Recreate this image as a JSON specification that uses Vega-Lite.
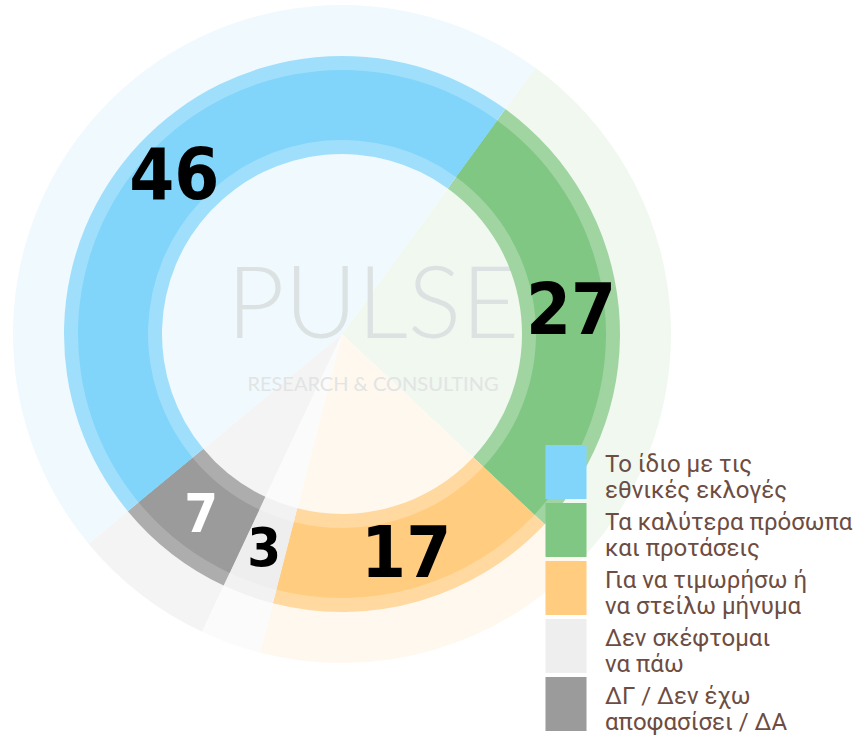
{
  "$schema": "https://vega.github.io/schema/vega-lite/v6.json",
  "width": 684,
  "height": 668,
  "padding": 0,
  "background": "white",
  "config": {"view": {"stroke": null}},
  "datasets": {
    "pts": [
      {"cat": "Τα καλύτερα πρόσωπα\nκαι προτάσεις", "v": 27, "ord": 1},
      {"cat": "Για να τιμωρήσω ή\nνα στείλω μήνυμα", "v": 17, "ord": 2},
      {"cat": "Δεν σκέφτομαι\nνα πάω", "v": 3, "ord": 3},
      {"cat": "ΔΓ / Δεν έχω\nαποφασίσει / ΔΑ", "v": 7, "ord": 4},
      {"cat": "Το ίδιο με τις\nεθνικές εκλογές", "v": 46, "ord": 5}
    ],
    "wm1": [{"t": "PULSE"}],
    "wm2": [{"t": "RESEARCH & CONSULTING"}]
  },
  "resolve": {"scale": {"fill": "independent"}},
  "layer": [
    {
      "data": {"name": "pts"},
      "mark": {"type": "arc", "innerRadius": 0, "outerRadius": 329},
      "encoding": {
        "theta": {"field": "v", "type": "quantitative", "stack": true, "scale": {"range": [0.6283, 6.9115]}},
        "order": {"field": "ord", "type": "quantitative"},
        "fill": {
          "field": "cat", "type": "nominal", "legend": null,
          "scale": {
            "domain": ["Το ίδιο με τις\nεθνικές εκλογές", "Τα καλύτερα πρόσωπα\nκαι προτάσεις", "Για να τιμωρήσω ή\nνα στείλω μήνυμα", "Δεν σκέφτομαι\nνα πάω", "ΔΓ / Δεν έχω\nαποφασίσει / ΔΑ"],
            "range": ["#f0f9fe", "#f0f8f0", "#fff8ef", "#fbfbfb", "#f4f4f4"]
          }
        }
      }
    },
    {
      "data": {"name": "wm1"},
      "mark": {"type": "text", "font": "Lato", "fontWeight": 300, "fontSize": 100, "color": "#dce2e2", "dx": 31, "dy": -26},
      "encoding": {"text": {"field": "t"}}
    },
    {
      "data": {"name": "wm2"},
      "mark": {"type": "text", "font": "Lato", "fontWeight": 400, "fontSize": 20, "color": "#e2e4e4", "dx": 31, "dy": 51},
      "encoding": {"text": {"field": "t"}}
    },
    {
      "data": {"name": "pts"},
      "mark": {"type": "arc", "innerRadius": 180, "outerRadius": 278},
      "encoding": {
        "theta": {"field": "v", "type": "quantitative", "stack": true},
        "order": {"field": "ord", "type": "quantitative"},
        "fill": {
          "field": "cat", "type": "nominal", "legend": null,
          "scale": {
            "domain": ["Το ίδιο με τις\nεθνικές εκλογές", "Τα καλύτερα πρόσωπα\nκαι προτάσεις", "Για να τιμωρήσω ή\nνα στείλω μήνυμα", "Δεν σκέφτομαι\nνα πάω", "ΔΓ / Δεν έχω\nαποφασίσει / ΔΑ"],
            "range": ["#a0dffb", "#a0d5a2", "#ffd99f", "#f2f2f2", "#adadad"]
          }
        }
      }
    },
    {
      "data": {"name": "pts"},
      "mark": {"type": "arc", "innerRadius": 194, "outerRadius": 264},
      "encoding": {
        "theta": {"field": "v", "type": "quantitative", "stack": true},
        "order": {"field": "ord", "type": "quantitative"},
        "color": {
          "field": "cat", "type": "nominal",
          "scale": {
            "domain": ["Το ίδιο με τις\nεθνικές εκλογές", "Τα καλύτερα πρόσωπα\nκαι προτάσεις", "Για να τιμωρήσω ή\nνα στείλω μήνυμα", "Δεν σκέφτομαι\nνα πάω", "ΔΓ / Δεν έχω\nαποφασίσει / ΔΑ"],
            "range": ["#81d4fa", "#81c784", "#ffcc80", "#eeeeee", "#9b9b9b"]
          },
          "legend": {
            "title": null,
            "orient": "none",
            "legendX": 539,
            "legendY": 445,
            "padding": 0,
            "symbolType": "M-0.76,-1H0.76V1H-0.76Z",
            "symbolSize": 2916,
            "symbolStrokeWidth": 0,
            "symbolOpacity": 1,
            "labelFont": "Roboto",
            "labelFontSize": 24,
            "labelBaseline": "alphabetic",
            "labelColor": "#6d4c41",
            "labelExpr": "split(datum.label, '\\n')",
            "rowPadding": -4,
            "labelOffset": 12,
            "labelLimit": 400
          }
        }
      }
    },
    {
      "data": {"name": "pts"},
      "mark": {"type": "text", "radius": 230, "font": "DejaVu Sans Condensed", "fontWeight": "bold"},
      "encoding": {
        "theta": {"field": "v", "type": "quantitative", "stack": true},
        "order": {"field": "ord", "type": "quantitative"},
        "text": {"field": "v", "type": "quantitative"},
        "color": {"condition": {"test": "datum.v == 7", "value": "white"}, "value": "black"},
        "size": {"condition": {"test": "datum.v < 10", "value": 54}, "value": 72}
      }
    }
  ]
}
